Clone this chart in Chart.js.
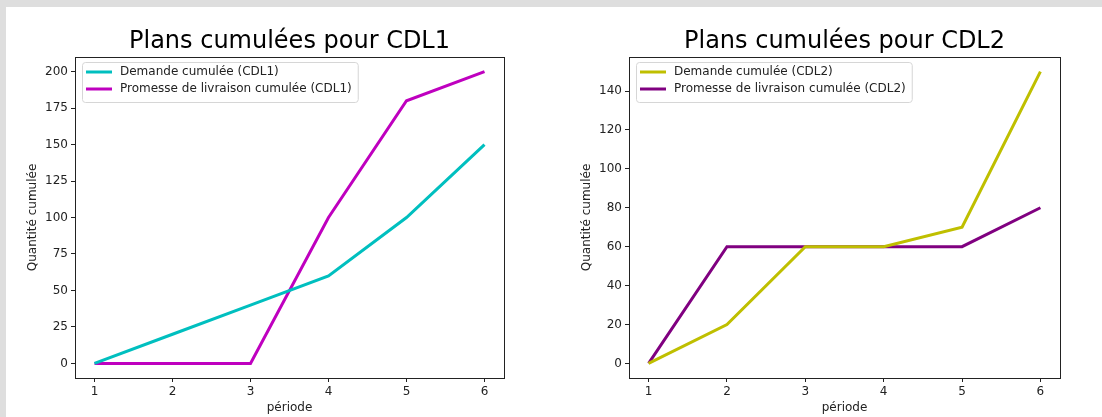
<!DOCTYPE html>
<html>
<head>
<meta charset="utf-8">
<script src="https://cdn.jsdelivr.net/npm/chart.js@4/dist/chart.umd.min.js"></script>
<style>
  body { margin: 0; background: #dedede; width: 1102px; height: 417px; overflow: hidden; position: relative; }
  #panel { position: absolute; left: 6px; top: 7px; right: 0; bottom: 0; background: #fff; }
  .box { position: absolute; top: 0; width: 551px; height: 417px; }
</style>
</head>
<body>
<div id="panel"></div>
<div class="box" style="left:0"><canvas id="c1"></canvas></div>
<div class="box" style="left:551px"><canvas id="c2"></canvas></div>
<script>
// données
var periodes = [1, 2, 3, 4, 5, 6];
var demandeCDL1 = [0, 20, 40, 60, 100, 150];
var promesseCDL1 = [0, 0, 0, 100, 180, 200];
var demandeCDL2 = [0, 20, 60, 60, 70, 150];
var promesseCDL2 = [0, 60, 60, 60, 60, 80];
var ticksY1 = [0, 25, 50, 75, 100, 125, 150, 175, 200];
var ticksY2 = [0, 20, 40, 60, 80, 100, 120, 140];

Chart.defaults.font.family = "'DejaVu Sans', sans-serif";
Chart.defaults.color = '#222';

function points(vals) {
    return periodes.map(function(p, i) { return {x: p, y: vals[i]}; });
}

// titre centré sur la zone de tracé, cadre, et légende dans le coin haut gauche
var cadre = {
    id: 'cadre',
    afterDraw: function(chart) {
        var ctx = chart.ctx, a = chart.chartArea;
        ctx.save();
        ctx.fillStyle = '#000';
        ctx.font = "24px 'DejaVu Sans'";
        ctx.textAlign = 'center';
        ctx.textBaseline = 'alphabetic';
        ctx.fillText(chart.options.titre, (a.left + a.right) / 2, 48);
        ctx.textAlign = 'left';

        ctx.strokeStyle = '#222';
        ctx.lineWidth = 1;
        ctx.strokeRect(Math.round(a.left) + 0.5, Math.round(a.top) + 0.5,
            Math.round(a.right - a.left), Math.round(a.bottom - a.top));

        ctx.font = "12px 'DejaVu Sans'";
        var ds = chart.data.datasets;
        var w = 0;
        ds.forEach(function(d) { w = Math.max(w, ctx.measureText(d.label).width); });
        var x = a.left + 7, y = a.top + 5, bw = 38 + w + 6, bh = 40;
        ctx.beginPath();
        ctx.roundRect(x + 0.5, y + 0.5, bw, bh, 3);
        ctx.fillStyle = 'rgba(255,255,255,0.8)';
        ctx.fill();
        ctx.strokeStyle = '#d6d6d6';
        ctx.stroke();
        ds.forEach(function(d, i) {
            var cy = y + 10 + i * 17;
            ctx.beginPath();
            ctx.moveTo(x + 4, cy);
            ctx.lineTo(x + 30, cy);
            ctx.strokeStyle = d.borderColor;
            ctx.lineWidth = 3;
            ctx.stroke();
            ctx.fillStyle = '#222';
            ctx.textBaseline = 'middle';
            ctx.fillText(d.label, x + 38, cy);
        });
        ctx.restore();
    }
};

function makeChart(id, titre, series, yMin, yMax, ticksY, pad) {
    new Chart(document.getElementById(id), {
        type: 'line',
        data: {
            datasets: series.map(function(s) {
                return {
                    label: s.label,
                    data: points(s.data),
                    borderColor: s.color,
                    backgroundColor: s.color,
                    borderWidth: 3,
                    pointRadius: 0,
                    tension: 0
                };
            })
        },
        options: {
            titre: titre,
            responsive: true,
            maintainAspectRatio: false,
            animation: false,
            layout: { padding: { left: pad.left, right: pad.right, top: 57, bottom: 0 } },
            plugins: {
                legend: { display: false },
                tooltip: { enabled: false },
                title: { display: false }
            },
            scales: {
                x: {
                    type: 'linear',
                    min: 0.75,
                    max: 6.25,
                    afterBuildTicks: function(s) { s.ticks = periodes.map(function(v) { return {value: v}; }); },
                    afterFit: function(s) { s.height = 39; },
                    ticks: { autoSkip: false, maxRotation: 0, padding: 3, font: { size: 12 } },
                    grid: { drawOnChartArea: false, drawTicks: true, tickLength: 4, color: '#222' },
                    border: { display: true, color: '#222' },
                    title: { display: true, text: 'période', font: { size: 12 }, padding: { top: 0, bottom: 2 } }
                },
                y: {
                    min: yMin,
                    max: yMax,
                    afterBuildTicks: function(s) { s.ticks = ticksY.map(function(v) { return {value: v}; }); },
                    afterFit: function(s) { s.width = 53; },
                    ticks: { padding: 3, font: { size: 12 } },
                    grid: { drawOnChartArea: false, drawTicks: true, tickLength: 4, color: '#222' },
                    border: { display: true, color: '#222' },
                    title: { display: true, text: 'Quantité cumulée', font: { size: 12 }, padding: { top: 4, bottom: 4 } }
                }
            }
        },
        plugins: [cadre]
    });
}

makeChart('c1', 'Plans cumulées pour CDL1', [
    { label: 'Demande cumulée (CDL1)', data: demandeCDL1, color: '#00bfbf' },
    { label: 'Promesse de livraison cumulée (CDL1)', data: promesseCDL1, color: '#bf00bf' }
], -10, 210, ticksY1, { left: 22, right: 47 });

makeChart('c2', 'Plans cumulées pour CDL2', [
    { label: 'Demande cumulée (CDL2)', data: demandeCDL2, color: '#bfbf00' },
    { label: 'Promesse de livraison cumulée (CDL2)', data: promesseCDL2, color: '#800080' }
], -7.5, 157.5, ticksY2, { left: 25, right: 42 });
</script>
</body>
</html>
